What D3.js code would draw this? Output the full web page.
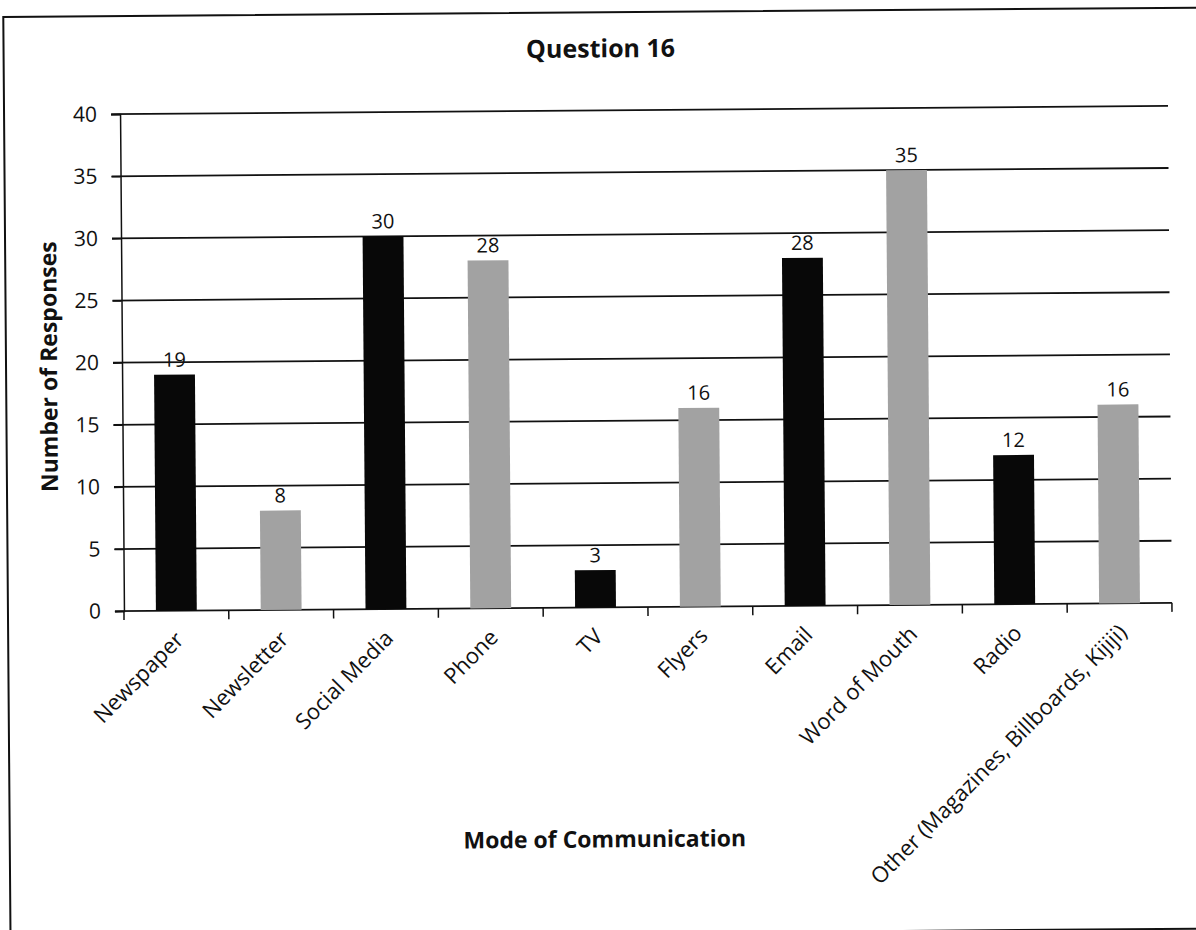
<!DOCTYPE html>
<html>
<head>
<meta charset="utf-8">
<script src="https://cdn.jsdelivr.net/npm/d3@7"></script>
<style>
  body { margin: 0; background: #fff; }
  svg { display: block; font-family: "Open Sans", "DejaVu Sans", sans-serif; }
</style>
</head>
<body>
<svg id="chart"></svg>
<script>
// chart values
const categories = ['Newspaper', 'Newsletter', 'Social Media', 'Phone', 'TV', 'Flyers',
  'Email', 'Word of Mouth', 'Radio', 'Other (Magazines, Billboards, Kijiji)']
const responses = [19, 8, 30, 28, 3, 16, 28, 35, 12, 16]
const yTicks = [0, 5, 10, 15, 20, 25, 30, 35, 40]

const width = 1196, height = 930
const svg = d3.select('#chart').attr('width', width).attr('height', height)

// the scan is slightly rotated, so tilt everything a touch
const page = svg.append('g').attr('transform', 'rotate(-0.45, 646, 360)')

// outer frame of the scanned chart
page.append('rect')
  .attr('x', 6).attr('y', 12)
  .attr('width', 1210).attr('height', 921)
  .attr('fill', 'none').attr('stroke', '#111').attr('stroke-width', 2)

const plotLeft = 122, plotRight = 1170, plotTop = 110, plotBottom = 607

const x = d3.scaleBand().domain(categories).range([plotLeft, plotRight]).padding(0)
const y = d3.scaleLinear().domain([0, 40]).range([plotBottom, plotTop])

// horizontal gridlines
page.append('g')
  .selectAll('line')
  .data(yTicks.filter(d => d > 0))
  .enter()
  .append('line')
  .attr('x1', plotLeft - 9).attr('x2', plotRight)
  .attr('y1', d => y(d)).attr('y2', d => y(d))
  .attr('stroke', '#111').attr('stroke-width', 1.8)

// y axis
const yAxis = page.append('g')
  .attr('transform', `translate(${plotLeft},0)`)
  .call(d3.axisLeft(y).tickValues(yTicks).tickSize(9).tickPadding(14))
yAxis.select('.domain').attr('stroke', '#111').attr('stroke-width', 1.5)
yAxis.selectAll('.tick line').attr('stroke', '#111').attr('stroke-width', 1.5)
yAxis.selectAll('text')
  .attr('font-size', 21).attr('fill', '#111')
  .attr('font-family', '"Open Sans", sans-serif')

// x axis, ticks on band boundaries
const xAxis = page.append('g')
  .attr('transform', `translate(0,${plotBottom})`)
xAxis.append('line')
  .attr('x1', plotLeft - 9).attr('x2', plotRight)
  .attr('stroke', '#111').attr('stroke-width', 1.8)
const edges = categories.map(c => x(c)).concat([plotRight])
xAxis.selectAll('.edge')
  .data(edges)
  .enter()
  .append('line')
  .attr('class', 'edge')
  .attr('x1', d => d).attr('x2', d => d)
  .attr('y1', 0).attr('y2', 9)
  .attr('stroke', '#111').attr('stroke-width', 1.5)

xAxis.selectAll('.cat')
  .data(categories)
  .enter()
  .append('text')
  .attr('class', 'cat')
  .attr('transform', d => `translate(${x(d) + x.bandwidth() / 2 + 3},${25}) rotate(-45)`)
  .attr('text-anchor', 'end')
  .attr('dy', '0.35em')
  .attr('font-size', 22)
  .attr('fill', '#111')
  .text(d => d)

// bars
const barW = x.bandwidth() * 0.39
const colors = ['#080808', '#a2a2a2']
page.append('g')
  .selectAll('rect')
  .data(responses)
  .enter()
  .append('rect')
  .attr('x', (d, i) => x(categories[i]) + (x.bandwidth() - barW) / 2)
  .attr('y', d => y(d))
  .attr('width', barW)
  .attr('height', d => plotBottom - y(d))
  .attr('fill', (d, i) => colors[i % 2])

// value labels
page.append('g')
  .selectAll('text')
  .data(responses)
  .enter()
  .append('text')
  .attr('x', (d, i) => x(categories[i]) + x.bandwidth() / 2)
  .attr('y', d => y(d) - 8)
  .attr('text-anchor', 'middle')
  .attr('font-size', 20)
  .attr('fill', '#111')
  .text(d => d)

// titles
page.append('text')
  .attr('x', 603).attr('y', 57)
  .attr('text-anchor', 'middle')
  .attr('font-size', 25).attr('font-weight', 'bold').attr('fill', '#111')
  .text('Question 16')

page.append('text')
  .attr('transform', 'translate(57,362) rotate(-90)')
  .attr('text-anchor', 'middle')
  .attr('font-size', 23).attr('font-weight', 'bold').attr('fill', '#111')
  .text('Number of Responses')

page.append('text')
  .attr('x', 601).attr('y', 847)
  .attr('text-anchor', 'middle')
  .attr('font-size', 23).attr('font-weight', 'bold').attr('fill', '#111')
  .text('Mode of Communication')
</script>
</body>
</html>
